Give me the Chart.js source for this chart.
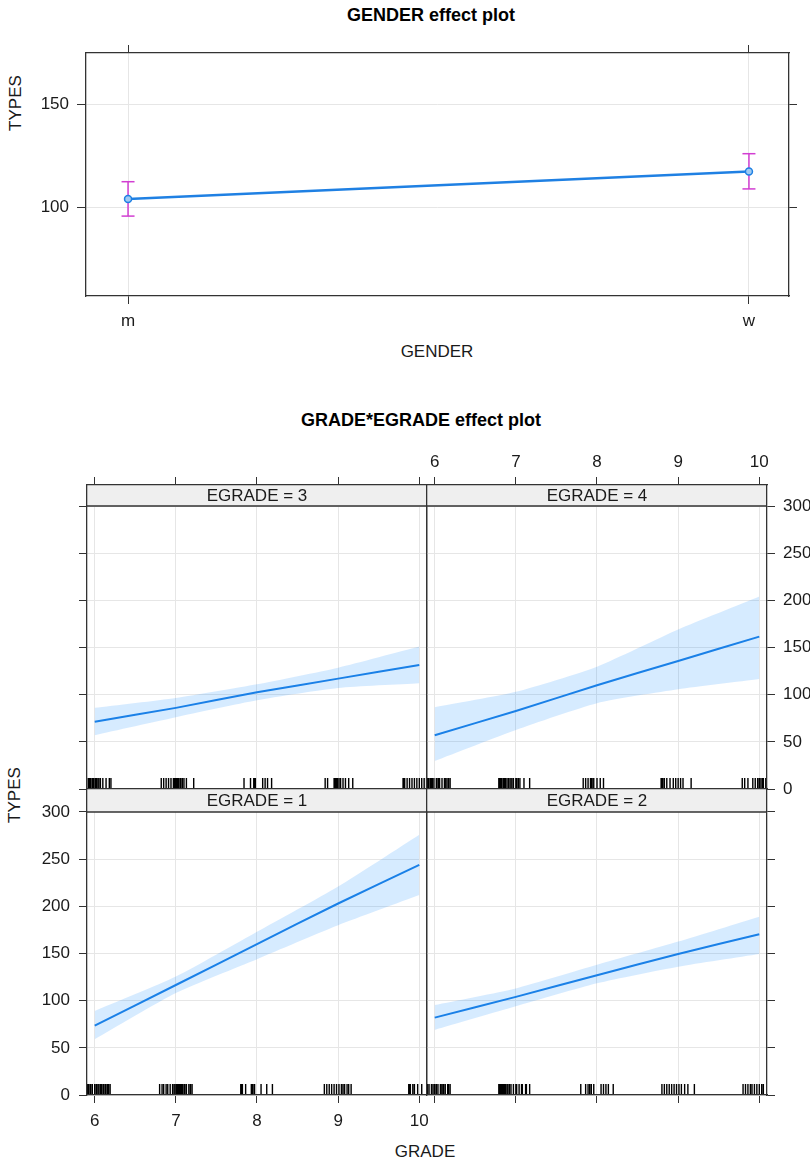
<!DOCTYPE html>
<html>
<head>
<meta charset="utf-8">
<title>effect plots</title>
<script src="https://cdn.jsdelivr.net/npm/chart.js@4.4.1/dist/chart.umd.min.js"></script>
<style>
  html, body { margin: 0; padding: 0; background: #fff; }
  body { width: 810px; height: 1163px; position: relative; overflow: hidden;
         font-family: "Liberation Sans", Arial, sans-serif; color: #1a1a1a; }
  canvas { position: absolute; }
  .lbl { position: absolute; white-space: nowrap; font-size: 17px; transform: translate(-50%, -50%); }
  .title { font-weight: bold; font-size: 18px; color: #000; }
  .rot { transform: translate(-50%, -50%) rotate(-90deg); }
</style>
</head>
<body>
<div class="lbl title" style="left:431px; top:15px;">GENDER effect plot</div>
<div class="lbl rot" style="left:16px; top:103px;">TYPES</div>
<div class="lbl" style="left:437px; top:352px;">GENDER</div>
<canvas id="gender"></canvas>

<div class="lbl title" style="left:421px; top:420px;">GRADE*EGRADE effect plot</div>
<div class="lbl rot" style="left:15px; top:795px;">TYPES</div>
<div class="lbl" style="left:425px; top:1152px;">GRADE</div>
<canvas id="pE3"></canvas>
<canvas id="pE4"></canvas>
<canvas id="pE1"></canvas>
<canvas id="pE2"></canvas>

<script>
// ---------------- data ----------------
const genderLevels = ["m", "w"];
const genderFit = [103.9, 117.3];
const genderLower = [95.6, 108.8];
const genderUpper = [112.3, 125.9];
const genderTicks = [100, 150];

const grades = [6, 7, 8, 9, 10];
const gradeTicks = [6, 7, 8, 9, 10];
const typesTicks = [0, 50, 100, 150, 200, 250, 300];

// EGRADE = 1
const fitE1 = [73.5, 116.6, 160, 203, 244];
const lowE1 = [59, 108, 144, 180, 212];
const uppE1 = [89, 125.5, 173, 221, 276];
const rugE1 = [5.91, 5.92, 5.93, 5.95, 5.97, 6.0, 6.02, 6.03, 6.05, 6.07, 6.08, 6.09, 6.11, 6.13, 6.14, 6.16, 6.17, 6.19,
  6.8, 6.83, 6.85, 6.88, 6.9, 6.93, 6.96, 6.98, 7.0, 7.01, 7.02, 7.03, 7.04, 7.05, 7.06, 7.07, 7.08, 7.1, 7.11, 7.13, 7.16, 7.18, 7.2,
  7.8, 7.81, 7.82, 7.86, 7.93, 7.94, 7.95, 7.97, 8.05, 8.12, 8.19,
  8.83, 8.86, 8.89, 8.92, 8.95, 8.98, 9.01, 9.04, 9.06, 9.08, 9.11, 9.13, 9.16,
  9.87, 9.88, 9.89, 9.92, 9.94, 9.98, 10.03];

// EGRADE = 2
const fitE2 = [82, 104, 127, 149.5, 170.4];
const lowE2 = [69, 94, 118.4, 136, 149.5];
const uppE2 = [95.4, 113, 138, 162.6, 189];
const rugE2 = [5.91, 5.93, 5.96, 5.98, 6.0, 6.02, 6.04, 6.07, 6.08, 6.1, 6.11, 6.13, 6.16, 6.17, 6.19,
  6.79, 6.8, 6.81, 6.82, 6.83, 6.84, 6.85, 6.86, 6.87, 6.88, 6.9, 6.92, 6.94, 6.97, 7.0, 7.01, 7.04, 7.07, 7.08, 7.12, 7.13, 7.17,
  7.8, 7.86, 7.89, 7.91, 7.93, 7.96, 8.05, 8.08, 8.11, 8.14, 8.2,
  8.8, 8.83, 8.86, 8.89, 8.92, 8.95, 8.98, 9.01, 9.04, 9.08, 9.12, 9.2,
  9.8, 9.83, 9.86, 9.89, 9.91, 9.94, 9.97, 10.0, 10.03, 10.05];

// EGRADE = 3
const fitE3 = [71.4, 86, 102.5, 117, 131.5];
const lowE3 = [57, 76, 94, 107, 112];
const uppE3 = [86, 96.5, 111, 128.6, 151];
const rugE3 = [5.92, 5.93, 5.94, 5.95, 5.97, 5.98, 5.99, 6.01, 6.02, 6.03, 6.05, 6.07, 6.1, 6.14, 6.18, 6.2,
  6.82, 6.85, 6.88, 6.91, 6.94, 6.97, 6.98, 6.99, 7.0, 7.01, 7.02, 7.03, 7.05, 7.06, 7.08, 7.1, 7.13, 7.22,
  7.84, 7.92, 7.96, 7.97, 7.98, 8.07, 8.1, 8.13, 8.18,
  8.84, 8.87, 8.95, 8.96, 8.97, 8.98, 8.99, 9.01, 9.03, 9.06, 9.09, 9.13, 9.18,
  9.8, 9.81, 9.82, 9.85, 9.88, 9.91, 9.94, 9.97, 10.0, 10.03, 10.06, 10.09];

// EGRADE = 4
const fitE4 = [57, 82.7, 110, 135.7, 161.5];
const lowE4 = [29.7, 62.6, 91, 105.7, 116.6];
const uppE4 = [86.6, 103, 129.7, 169, 204];
const rugE4 = [5.91, 5.92, 5.93, 5.95, 5.96, 5.97, 5.99, 6.02, 6.04, 6.05, 6.06, 6.09, 6.12, 6.13, 6.15, 6.17, 6.19,
  6.79, 6.8, 6.81, 6.82, 6.83, 6.85, 6.86, 6.87, 6.89, 6.91, 6.93, 6.95, 6.97, 7.0, 7.01, 7.03, 7.05, 7.1, 7.17,
  7.83, 7.86, 7.89, 7.92, 7.93, 7.94, 7.96, 8.0, 8.04, 8.08,
  8.79, 8.8, 8.81, 8.83, 8.86, 8.9, 8.94, 8.97, 9.0, 9.03, 9.06, 9.16,
  9.79, 9.82, 9.86, 9.92, 9.95, 9.98, 10.0, 10.02, 10.04, 10.05, 10.08];

// ---------------- style ----------------
const FONT = '"Liberation Sans", Arial, sans-serif';
const TEXT = "#1a1a1a";
const GRID = "#e6e6e6";
const FRAME = "#333333";
const BLUE = "#1f80e3";
const RIBBON = "rgba(0,128,255,0.16)";
const MAGENTA = "#d23ed2";
const STRIP_BG = "#efefef";

Chart.defaults.font.family = FONT;
Chart.defaults.font.size = 17;
Chart.defaults.color = TEXT;
Chart.defaults.animation = false;

function place(id, left, top, w, h) {
  const c = document.getElementById(id);
  c.width = w;
  c.height = h;
  c.style.left = left + "px";
  c.style.top = top + "px";
  return c;
}

// one axis; mode 0 = border only, 1 = tick marks, 2 = tick marks + labels
function axis(kind, position, min, max, vals, mode, size, main, pad, tickLen, fmt) {
  return {
    type: "linear", axis: kind, position: position, min: min, max: max, bounds: "data",
    afterBuildTicks: (s) => { s.ticks = vals.map((v) => ({ value: v })); },
    afterFit: (s) => {
      if (s.isHorizontal()) s.height = size; else s.width = size;
      s.paddingLeft = s.paddingRight = s.paddingTop = s.paddingBottom = 0;
    },
    ticks: { display: mode === 2, padding: pad, color: TEXT, maxRotation: 0, autoSkip: false,
             callback: fmt || ((v) => v) },
    grid: { drawOnChartArea: main, color: GRID, lineWidth: 1, drawTicks: mode > 0,
            tickLength: tickLen, tickColor: FRAME },
    border: { display: true, color: FRAME, width: 1.3, z: 1 },
  };
}

// ---------------- GENDER effect plot ----------------
(function () {
  const area = { left: 86, right: 789, top: 53, bottom: 296 };
  const m = { l: 86, r: 21, t: 53, b: 84 };
  const c = place("gender", area.left - m.l, area.top - m.t,
    area.right - area.left + m.l + m.r, area.bottom - area.top + m.t + m.b);
  const xMin = -0.0677, xMax = 1.0645, yMin = 56.8, yMax = 174.8;
  const idx = genderLevels.map((_, i) => i);
  const fmt = (v) => genderLevels[v];

  const errorBars = genderLevels.map((lvl, i) => ({
    label: lvl,
    data: [{ x: i, y: genderLower[i] }, { x: i, y: genderUpper[i] }],
    borderColor: MAGENTA, borderWidth: 1.5,
    pointStyle: "line", pointRadius: 6.5, pointBorderColor: MAGENTA, pointBorderWidth: 1.5,
    fill: false, order: 2,
  }));

  new Chart(c, {
    type: "line",
    data: {
      datasets: [
        { label: "fit", data: genderFit.map((y, i) => ({ x: i, y: y })),
          borderColor: BLUE, borderWidth: 2.5, pointRadius: 3.5, pointBorderWidth: 1.5,
          pointBorderColor: BLUE, pointBackgroundColor: "#9fcaf2", fill: false, order: 0 },
        ...errorBars,
      ],
    },
    options: {
      responsive: false,
      layout: { padding: 0 },
      plugins: { legend: { display: false }, tooltip: { enabled: false } },
      scales: {
        x: axis("x", "bottom", xMin, xMax, idx, 2, m.b, true, 7, 8, fmt),
        x2: axis("x", "top", xMin, xMax, idx, 1, m.t, false, 4, 8, fmt),
        y: axis("y", "left", yMin, yMax, genderTicks, 2, m.l, true, 8, 9),
        y2: axis("y", "right", yMin, yMax, genderTicks, 1, m.r, false, 4, 8),
      },
    },
  });
})();

// ---------------- GRADE*EGRADE effect plot ----------------
const COL_X = [87, 427];
const COL_W = 340;
const ROWS = [{ top: 485, h: 304, strip: 21 }, { top: 789, h: 306, strip: 23 }];
const PM = { l: 70, r: 62, t: 45, b: 45 };
const GX = [5.905, 10.095];

function stripPlugin(text, height) {
  return {
    id: "strip",
    beforeDatasetsDraw(chart) {
      const { ctx, chartArea: a } = chart;
      ctx.save();
      ctx.fillStyle = STRIP_BG;
      ctx.fillRect(a.left, a.top, a.right - a.left, height);
      ctx.strokeStyle = FRAME;
      ctx.lineWidth = 1.3;
      ctx.beginPath();
      ctx.moveTo(a.left, a.top + height);
      ctx.lineTo(a.right, a.top + height);
      ctx.stroke();
      ctx.fillStyle = TEXT;
      ctx.font = "17px " + FONT;
      ctx.textAlign = "center";
      ctx.textBaseline = "middle";
      ctx.fillText(text, (a.left + a.right) / 2, a.top + height / 2 + 1);
      ctx.restore();
    },
  };
}

function rugPlugin(values) {
  return {
    id: "rug",
    afterDatasetsDraw(chart) {
      const { ctx, chartArea: a, scales } = chart;
      ctx.save();
      ctx.strokeStyle = "#000";
      ctx.lineWidth = 1.4;
      ctx.beginPath();
      values.forEach((v) => {
        const x = scales.x.getPixelForValue(v);
        ctx.moveTo(x, a.bottom);
        ctx.lineTo(x, a.bottom - 11);
      });
      ctx.stroke();
      ctx.restore();
    },
  };
}

function makePanel(id, col, row, stripText, fit, low, upp, rug, show) {
  const R = ROWS[row];
  const c = place(id, COL_X[col] - PM.l, R.top - PM.t, COL_W + PM.l + PM.r, R.h + PM.t + PM.b);
  const yMax = 300 * R.h / (R.h - R.strip);
  const pts = (arr) => grades.map((g, i) => ({ x: g, y: arr[i] }));
  new Chart(c, {
    type: "line",
    data: {
      datasets: [
        { label: "upper", data: pts(upp), borderColor: "rgba(0,0,0,0)", borderWidth: 0, pointRadius: 0,
          fill: "+1", backgroundColor: RIBBON, tension: 0.2 },
        { label: "lower", data: pts(low), borderColor: "rgba(0,0,0,0)", borderWidth: 0, pointRadius: 0,
          fill: false, tension: 0.2 },
        { label: "fit", data: pts(fit), borderColor: BLUE, borderWidth: 2, pointRadius: 0,
          fill: false, tension: 0.2 },
      ],
    },
    options: {
      responsive: false,
      layout: { padding: 0 },
      plugins: { legend: { display: false }, tooltip: { enabled: false } },
      scales: {
        x: axis("x", "bottom", GX[0], GX[1], gradeTicks, show.bottom, PM.b, true, 8, 8),
        x2: axis("x", "top", GX[0], GX[1], gradeTicks, show.top, PM.t, false, 4, 8),
        y: axis("y", "left", 0, yMax, typesTicks, show.left, PM.l, true, 9, 8),
        y2: axis("y", "right", 0, yMax, typesTicks, show.right, PM.r, false, 8, 8),
      },
    },
    plugins: [stripPlugin(stripText, R.strip), rugPlugin(rug)],
  });
}

makePanel("pE3", 0, 0, "EGRADE = 3", fitE3, lowE3, uppE3, rugE3, { left: 1, top: 1, right: 0, bottom: 0 });
makePanel("pE4", 1, 0, "EGRADE = 4", fitE4, lowE4, uppE4, rugE4, { left: 0, top: 2, right: 2, bottom: 0 });
makePanel("pE1", 0, 1, "EGRADE = 1", fitE1, lowE1, uppE1, rugE1, { left: 2, top: 0, right: 0, bottom: 2 });
makePanel("pE2", 1, 1, "EGRADE = 2", fitE2, lowE2, uppE2, rugE2, { left: 0, top: 0, right: 1, bottom: 1 });
</script>
</body>
</html>
